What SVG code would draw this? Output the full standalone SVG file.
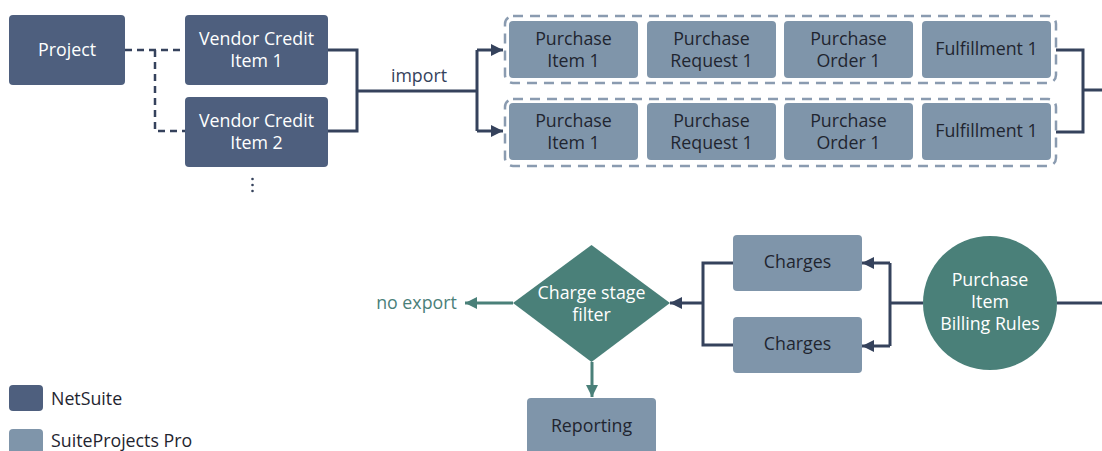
<svg xmlns="http://www.w3.org/2000/svg" width="1102" height="451" viewBox="0 0 1102 451">
<defs>
<style>
.ns{fill:#4e5f7e}
.sp{fill:#7f95aa}
.tl{fill:#4a8079}
.tw{font-family:"Open Sans","Noto Sans",sans-serif;font-size:17.8px;fill:#ffffff;text-anchor:middle}
.tk{font-family:"Open Sans","Noto Sans",sans-serif;font-size:17.8px;fill:#1f2530;text-anchor:middle}
.ln{fill:none;stroke:#35425c;stroke-width:3}
.dl{fill:none;stroke:#35425c;stroke-width:2.5;stroke-dasharray:7 5}
.tln{fill:none;stroke:#4a8079;stroke-width:3}
.grp{fill:none;stroke:#8a9bb0;stroke-width:2.5;stroke-dasharray:10 7}
.lb{font-family:"Open Sans","Noto Sans",sans-serif;font-size:17.8px}
</style>
<marker id="ad" viewBox="0 0 10 10" refX="10" refY="5" markerWidth="4" markerHeight="4.4" orient="auto" markerUnits="strokeWidth"><path d="M0,0 L10,5 L0,10 Z" fill="#35425c"/></marker>
<marker id="at" viewBox="0 0 10 10" refX="10" refY="5" markerWidth="4" markerHeight="4.4" orient="auto" markerUnits="strokeWidth"><path d="M0,0 L10,5 L0,10 Z" fill="#4a8079"/></marker>
</defs>
<rect width="1102" height="451" fill="#ffffff"/>

<g id="connectors">
<path class="dl" d="M125,50 H185 M155,50 V131 H185"/>
<path class="ln" d="M328,50 H357 V131 H328 M357,91 H477"/>
<path class="ln" d="M477,50 V131" />
<path class="ln" d="M477,50 H503" marker-end="url(#ad)"/>
<path class="ln" d="M477,131 H503" marker-end="url(#ad)"/>
<path class="ln" d="M1056,50 H1083 V132 H1056 M1083,90 H1102"/>
<path class="ln" d="M1057,303 H1102"/>
<path class="ln" d="M923,303 H890"/>
<path class="ln" d="M890,263 V346"/>
<path class="ln" d="M890,263 H862" marker-end="url(#ad)"/>
<path class="ln" d="M890,346 H862" marker-end="url(#ad)"/>
<path class="ln" d="M733,263 H703 V345 H733 M703,303 H670" marker-end="url(#ad)"/>
<path class="tln" d="M513,303 H465" marker-end="url(#at)"/>
<path class="tln" d="M592,362 V397" marker-end="url(#at)"/>
<text class="lb" x="419" y="82" fill="#35425c" text-anchor="middle">import</text>
<text class="lb" x="416.5" y="309" fill="#4a8079" text-anchor="middle">no export</text>
</g>

<g id="project"><rect class="ns" x="9" y="15" width="116" height="70" rx="4"/><text class="tw" x="67" y="56">Project</text></g>
<g id="vc1"><rect class="ns" x="185" y="15" width="143" height="70" rx="4"/><text class="tw" x="256.5" y="45">Vendor Credit</text><text class="tw" x="256.5" y="67">Item 1</text></g>
<g id="vc2"><rect class="ns" x="185" y="97" width="143" height="70" rx="4"/><text class="tw" x="256.5" y="127">Vendor Credit</text><text class="tw" x="256.5" y="149">Item 2</text></g>
<g id="ellipsis"><circle cx="252.5" cy="179" r="1.3" fill="#35425c"/><circle cx="252.5" cy="185" r="1.3" fill="#35425c"/><circle cx="252.5" cy="191" r="1.3" fill="#35425c"/></g>

<g id="group1">
<rect class="grp" x="505" y="16" width="551" height="67" rx="8"/>
<rect class="sp" x="509" y="21" width="129" height="57" rx="4"/><text class="tk" x="573.5" y="45">Purchase</text><text class="tk" x="573.5" y="67">Item 1</text>
<rect class="sp" x="647" y="21" width="129" height="57" rx="4"/><text class="tk" x="711.5" y="45">Purchase</text><text class="tk" x="711.5" y="67">Request 1</text>
<rect class="sp" x="784" y="21" width="129" height="57" rx="4"/><text class="tk" x="848.5" y="45">Purchase</text><text class="tk" x="848.5" y="67">Order 1</text>
<rect class="sp" x="922" y="21" width="129" height="57" rx="4"/><text class="tk" x="986.5" y="55">Fulfillment 1</text>
</g>
<g id="group2">
<rect class="grp" x="505" y="99" width="551" height="67" rx="8"/>
<rect class="sp" x="509" y="103" width="129" height="57" rx="4"/><text class="tk" x="573.5" y="127">Purchase</text><text class="tk" x="573.5" y="149">Item 1</text>
<rect class="sp" x="647" y="103" width="129" height="57" rx="4"/><text class="tk" x="711.5" y="127">Purchase</text><text class="tk" x="711.5" y="149">Request 1</text>
<rect class="sp" x="784" y="103" width="129" height="57" rx="4"/><text class="tk" x="848.5" y="127">Purchase</text><text class="tk" x="848.5" y="149">Order 1</text>
<rect class="sp" x="922" y="103" width="129" height="57" rx="4"/><text class="tk" x="986.5" y="137">Fulfillment 1</text>
</g>

<g id="rules"><circle class="tl" cx="990" cy="303" r="67"/><text class="tw" x="990" y="286">Purchase</text><text class="tw" x="990" y="308">Item</text><text class="tw" x="990" y="330">Billing Rules</text></g>
<g id="charges1"><rect class="sp" x="733" y="235" width="129" height="56" rx="4"/><text class="tk" x="797.5" y="268">Charges</text></g>
<g id="charges2"><rect class="sp" x="733" y="317" width="129" height="56" rx="4"/><text class="tk" x="797.5" y="350">Charges</text></g>
<g id="filter"><path class="tl" d="M591.5,245 L670,303 L591.5,362 L513,303 Z"/><text class="tw" x="591.5" y="299">Charge stage</text><text class="tw" x="591.5" y="321">filter</text></g>
<g id="reporting"><rect class="sp" x="527" y="398" width="129" height="60" rx="4"/><text class="tk" x="591.5" y="432">Reporting</text></g>

<g id="legend">
<rect class="ns" x="9" y="385" width="34" height="26" rx="4"/><text class="lb" x="51" y="405" fill="#1f2530">NetSuite</text>
<rect class="sp" x="9" y="429" width="34" height="30" rx="4"/><text class="lb" x="51" y="447" fill="#1f2530">SuiteProjects Pro</text>
</g>
</svg>
